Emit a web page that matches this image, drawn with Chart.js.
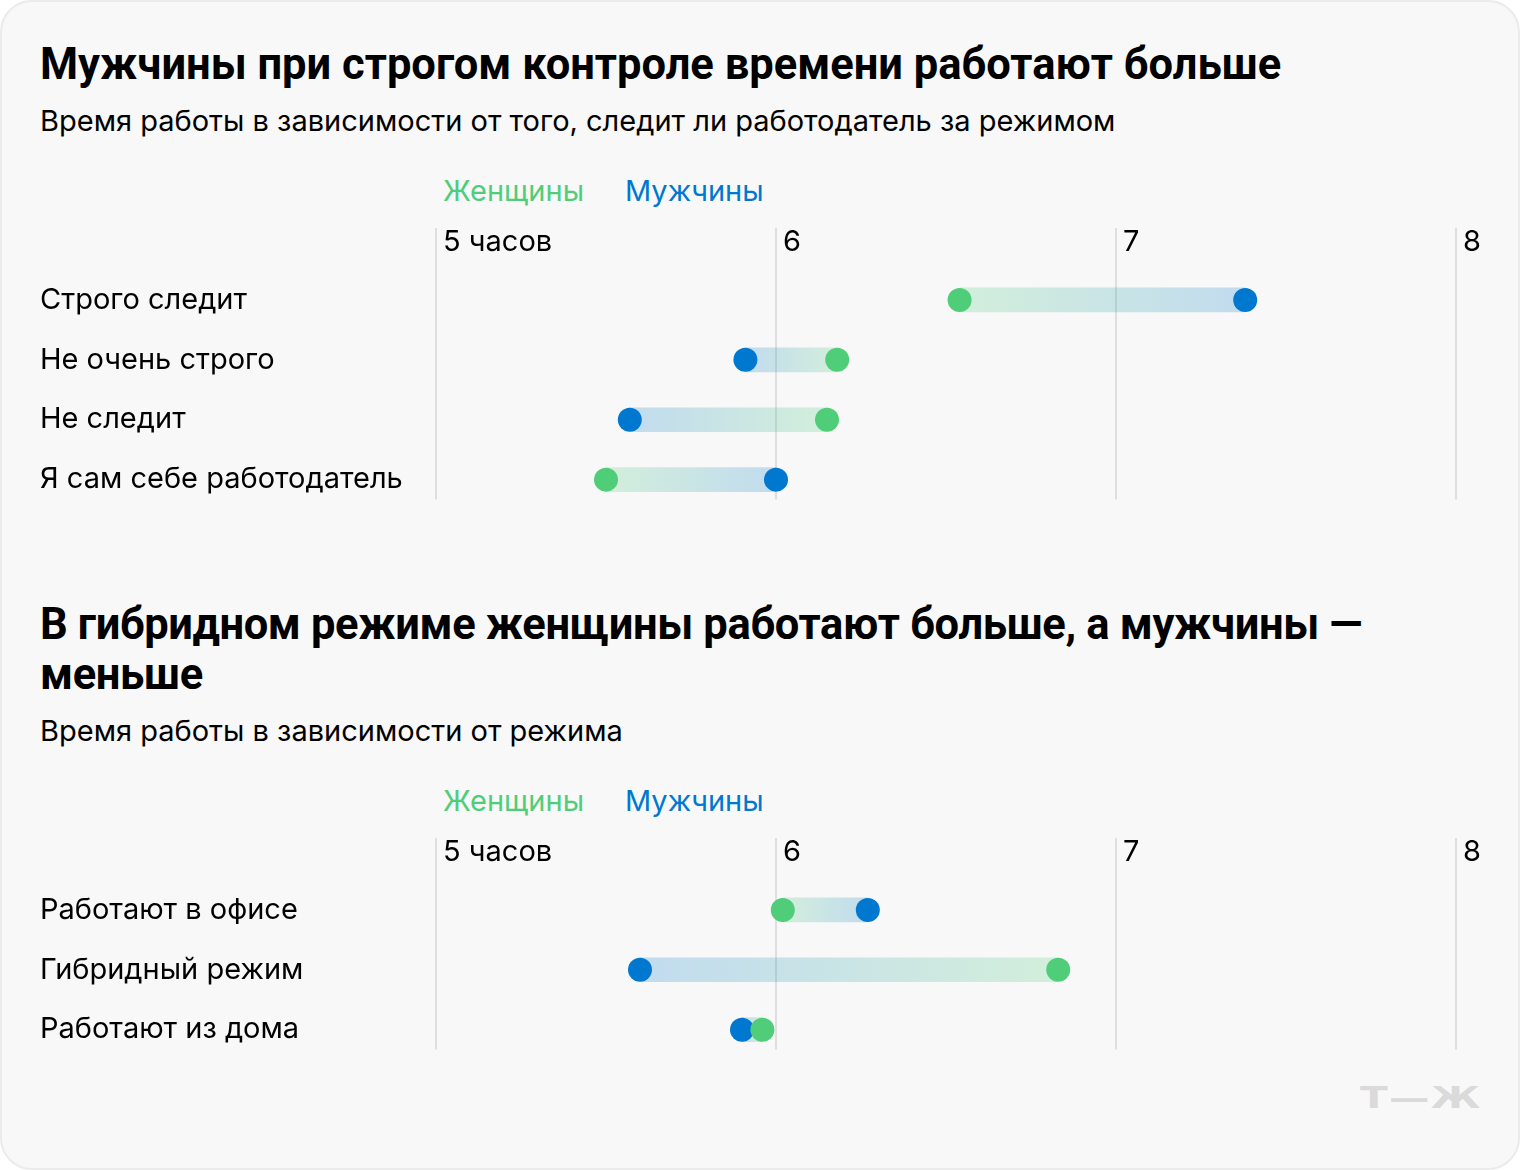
<!DOCTYPE html>
<html lang="ru">
<head>
<meta charset="utf-8">
<script src="https://cdn.jsdelivr.net/npm/chart.js@4.4.1/dist/chart.umd.min.js"></script>
<style>
  html, body { margin: 0; padding: 0; background: #fff; }
  .card {
    position: absolute; left: 0; top: 0; width: 1516px; height: 1166px;
    background: #f8f8f8; border: 2px solid #ebebeb; border-radius: 32px;
    font-family: Inter, "Noto Sans", sans-serif; color: #000;
  }
  .t { position: absolute; left: 38px; white-space: nowrap; }
  .title { font-family: Roboto, sans-serif; font-size: 43.5px; font-weight: 700; line-height: 50px; }
  .sub { font-size: 29px; line-height: 36px; }
  .leg { font-size: 29px; line-height: 36px; }
  .chart { position: absolute; left: -2px; width: 1520px; }
  .logo { position: absolute; left: 1358px; top: 1078px; font-family: "DejaVu Sans", sans-serif; font-weight: 700;
    font-size: 30px; color: #dadada; letter-spacing: 1px; transform: scaleX(1.35); transform-origin: left; }
</style>
</head>
<body>
<div class="card">
  <div class="t title" style="top:38px">Мужчины при строгом контроле времени работают больше</div>
  <div class="t sub" style="top:101px">Время работы в зависимости от того, следит ли работодатель за режимом</div>
  <div class="t leg" style="left:441px;top:171px;color:#4fcd78">Женщины</div>
  <div class="t leg" style="left:623px;top:171px;color:#0078cf">Мужчины</div>
  <canvas id="c1" class="chart" style="top:218px" width="1520" height="300"></canvas>

  <div class="t title" style="top:598px;letter-spacing:-0.35px">В гибридном режиме женщины работают больше, а мужчины —<br>меньше</div>
  <div class="t sub" style="top:711px">Время работы в зависимости от режима</div>
  <div class="t leg" style="left:441px;top:781px;color:#4fcd78">Женщины</div>
  <div class="t leg" style="left:623px;top:781px;color:#0078cf">Мужчины</div>
  <canvas id="c2" class="chart" style="top:828px" width="1520" height="240"></canvas>

  <div class="logo">Т—Ж</div>
</div>
<script>
// control chart
const controlRows = ["Строго следит", "Не очень строго", "Не следит", "Я сам себе работодатель"]
const controlWomen = [6.54, 6.18, 6.15, 5.5]
const controlMen = [7.38, 5.91, 5.57, 6.0]

// work mode chart
const modeRows = ["Работают в офисе", "Гибридный режим", "Работают из дома"]
const modeWomen = [6.02, 6.83, 5.96]
const modeMen = [6.27, 5.6, 5.9]

const hourTicks = [5, 6, 7, 8]
const firstTickLabel = "5 часов"

const womenColor = "#4fcd78"
const menColor = "#0078cf"
const womenFade = "rgba(79, 205, 120, 0.22)"
const menFade = "rgba(0, 120, 207, 0.22)"

Chart.defaults.font.family = "Inter, 'Noto Sans', sans-serif"
Chart.defaults.color = "#000"

function makeChart(canvas, rows, women, men) {
    const bars = rows.map((r, i) => ({ x: [women[i], men[i]], y: i }))
    const womenPts = rows.map((r, i) => ({ x: women[i], y: i }))
    const menPts = rows.map((r, i) => ({ x: men[i], y: i }))

    // bar fades from the women's dot colour to the men's
    const gradient = ctx => {
        const chart = ctx.chart
        if (!chart.chartArea || ctx.dataIndex === undefined) return womenFade
        const xs = chart.scales.x
        const x1 = xs.getPixelForValue(women[ctx.dataIndex])
        const x2 = xs.getPixelForValue(men[ctx.dataIndex])
        const g = chart.ctx.createLinearGradient(x1, 0, x2, 0)
        g.addColorStop(0, womenFade)
        g.addColorStop(1, menFade)
        return g
    }

    return new Chart(canvas, {
        type: "bar",
        data: {
            datasets: [
                {
                    data: bars,
                    backgroundColor: gradient,
                    borderWidth: 0,
                    borderSkipped: false,
                    barThickness: 24,
                    order: 3,
                },
                {
                    type: "scatter",
                    data: menPts,
                    backgroundColor: menColor,
                    borderWidth: 0,
                    pointRadius: 12,
                    order: 2,
                },
                {
                    type: "scatter",
                    data: womenPts,
                    backgroundColor: womenColor,
                    borderWidth: 0,
                    pointRadius: 12,
                    order: 1,
                },
            ],
        },
        options: {
            indexAxis: "y",
            responsive: false,
            animation: false,
            events: [],
            layout: { padding: { left: 40, right: 64, top: 0, bottom: 20 } },
            plugins: { legend: { display: false }, tooltip: { enabled: false } },
            scales: {
                x: {
                    type: "linear",
                    position: "top",
                    min: hourTicks[0],
                    max: hourTicks[hourTicks.length - 1],
                    afterBuildTicks: scale => { scale.ticks = hourTicks.map(v => ({ value: v })) },
                    afterFit: scale => { scale.height = 50 },
                    border: { display: false },
                    grid: { color: "#dedede", lineWidth: 2, tickLength: 42 },
                    ticks: {
                        align: "start",
                        labelOffset: 7,
                        padding: -32,
                        font: { size: 29 },
                        callback: v => v === hourTicks[0] ? firstTickLabel : String(v),
                    },
                },
                y: {
                    type: "linear",
                    reverse: true,
                    offset: false,
                    min: -0.5,
                    max: rows.length - 1 + 1 / 3,
                    afterBuildTicks: scale => { scale.ticks = rows.map((r, i) => ({ value: i })) },
                    afterFit: scale => { scale.width = 396 },
                    border: { display: false },
                    grid: { display: false, drawTicks: false, offset: false },
                    ticks: {
                        crossAlign: "far",
                        font: { size: 29 },
                        callback: v => rows[v],
                    },
                },
            },
        },
    })
}

makeChart(document.getElementById("c1"), controlRows, controlWomen, controlMen)
makeChart(document.getElementById("c2"), modeRows, modeWomen, modeMen)
</script>
</body>
</html>
